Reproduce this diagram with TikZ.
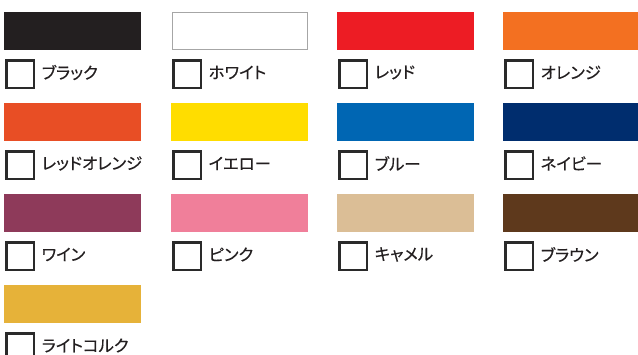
\documentclass[tikz,border=0pt]{standalone}
\usepackage{fontspec}
\newfontfamily\jp[FakeBold=0.4,RawFeature=+palt]{Noto Sans CJK JP}
\definecolor{cBlack}{HTML}{231F20}
\definecolor{cRed}{HTML}{ED1C24}
\definecolor{cOrange}{HTML}{F37021}
\definecolor{cRedOrange}{HTML}{E84E25}
\definecolor{cYellow}{HTML}{FFDD00}
\definecolor{cBlue}{HTML}{0066B3}
\definecolor{cNavy}{HTML}{002D6E}
\definecolor{cWine}{HTML}{8E3A5A}
\definecolor{cPink}{HTML}{F07F9A}
\definecolor{cCamel}{HTML}{DBBE96}
\definecolor{cBrown}{HTML}{5E391C}
\definecolor{cCork}{HTML}{E6B239}
\definecolor{cText}{HTML}{231F20}
\definecolor{cBox}{HTML}{2A2A2A}
\tikzset{
  swatch/.style={minimum width=137pt, minimum height=38pt, inner sep=0pt, anchor=north west},
  chk/.style={draw=cBox, line width=2.6pt, minimum width=27.4pt, minimum height=27.4pt, inner sep=0pt, anchor=north west},
  lbl/.style={anchor=west, inner sep=0pt, font=\jp\fontsize{16.4}{16.4}\selectfont, text=cText}
}
\begin{document}
\begin{tikzpicture}[x=1pt,y=-1pt]
\useasboundingbox (0,0) rectangle (638,355);
\foreach \name/\col/\cx/\ry/\lab in {
 s1/cBlack/4/12/ブラック,
 s3/cRed/337/12/レッド,
 s4/cOrange/503/12/オレンジ,
 s5/cRedOrange/4/103/レッドオレンジ,
 s6/cYellow/171/103/イエロー,
 s7/cBlue/337/103/ブルー,
 s8/cNavy/503/103/ネイビー,
 s9/cWine/4/194/ワイン,
 s10/cPink/171/194/ピンク,
 s11/cCamel/337/194/キャメル,
 s12/cBrown/503/194/ブラウン,
 s13/cCork/4/285/ライトコルク}{
  \node[swatch, fill=\col] (\name) at (\cx,\ry) {};
  \node[chk] (\name b) at (\cx+1.3,\ry+47.3) {};
  \node[lbl] (\name t) at (\cx+37.5,\ry+60.5) {\lab};
}
\node[swatch, draw=gray!70, line width=0.8pt, minimum width=135pt, minimum height=36.5pt] (s2) at (171.5,12.5) {};
\node[chk] (s2b) at (172.3,59.3) {};
\node[lbl] (s2t) at (208.5,72.5) {ホワイト};
\end{tikzpicture}
\end{document}
